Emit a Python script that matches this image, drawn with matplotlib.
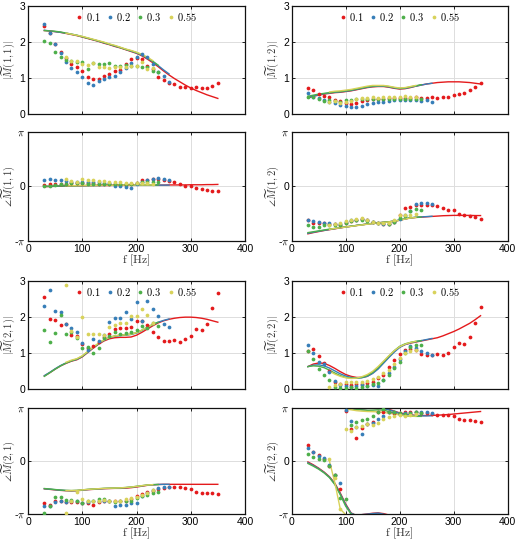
import numpy as np
import matplotlib
matplotlib.use("Agg")
import matplotlib.pyplot as plt
from matplotlib.lines import Line2D

plt.rcParams['mathtext.fontset'] = 'cm'
plt.rcParams['font.family'] = ['Liberation Sans', 'DejaVu Sans']

# ---------------- data ----------------
labels = ['0.1', '0.2', '0.3', '0.55']
colors = ['#e41a1c', '#377eb8', '#4daf4a', '#d8d25a']
f_red = np.arange(30, 351, 10)     # 30..350
f_blue = np.arange(30, 261, 10)    # 30..260
f_green = np.arange(30, 241, 10)   # 30..240
f_yellow = np.arange(70, 231, 10)  # 70..230

# |M(1,1)| measured
m11_mag_red = [2.44, 2.25, 1.95, 1.72, 1.55, 1.39, 1.32, 1.2, 1.02, 0.97, 0.99, 1.06, 1.13, 1.2, 1.23, 1.39, 1.53,
               1.57, 1.53, 1.35, 1.26, 1.03, 0.94, 0.88, 0.83, 0.77, 0.75, 0.74, 0.75, 0.72, 0.72, 0.79, 0.88]
m11_mag_blue = [2.51, 2.25, 1.94, 1.7, 1.46, 1.28, 1.18, 1.03, 0.86, 0.8, 0.93, 0.97, 1.02, 1.07, 1.16, 1.28, 1.42,
                1.58, 1.68, 1.6, 1.39, 1.18, 1.05, 0.9]
m11_mag_green = [2.03, 1.97, 1.74, 1.6, 1.51, 1.48, 1.46, 1.44, 1.26, 1.42, 1.39, 1.4, 1.42, 1.35, 1.35, 1.37, 1.34,
                 1.34, 1.31, 1.32, 1.21, 1.16]
m11_mag_yellow = [1.58, 1.48, 1.49, 1.4, 1.36, 1.42, 1.32, 1.32, 1.28, 1.32, 1.32, 1.32, 1.34, 1.34, 1.46, 1.26, 1.28]
# |M(1,1)| model
m11_magfit_red = [2.32, 2.31, 2.29, 2.27, 2.24, 2.21, 2.18, 2.14, 2.10, 2.06, 2.02, 1.97, 1.93, 1.88, 1.84, 1.79, 1.74,
                  1.69, 1.62, 1.53, 1.43, 1.32, 1.20, 1.09, 0.99, 0.90, 0.81, 0.73, 0.66, 0.60, 0.54, 0.49, 0.44]
m11_magfit_blue = [2.33, 2.31, 2.29, 2.27, 2.25, 2.22, 2.19, 2.15, 2.11, 2.07, 2.03, 1.98, 1.94, 1.89, 1.85, 1.80, 1.75,
                   1.70, 1.64, 1.56, 1.46, 1.35, 1.23, 1.12]
m11_magfit_green = [2.32, 2.31, 2.30, 2.28, 2.25, 2.22, 2.19, 2.15, 2.11, 2.07, 2.03, 1.99, 1.94, 1.90, 1.85, 1.80, 1.76,
                    1.71, 1.65, 1.57, 1.47, 1.36]
m11_magfit_yellow = [2.25, 2.22, 2.19, 2.16, 2.12, 2.08, 2.04, 2.0, 1.95, 1.91, 1.86, 1.81, 1.77, 1.72, 1.66, 1.58, 1.49]

# |M(1,2)|
m12_mag_red = [0.72, 0.68, 0.56, 0.52, 0.47, 0.4, 0.37, 0.31, 0.29, 0.31, 0.37, 0.4, 0.42, 0.43, 0.43, 0.44, 0.44,
               0.46, 0.44, 0.46, 0.47, 0.46, 0.46, 0.49, 0.46, 0.47, 0.49, 0.54, 0.56, 0.6, 0.68, 0.75, 0.88]
m12_mag_blue = [0.58, 0.49, 0.44, 0.4, 0.35, 0.31, 0.26, 0.23, 0.19, 0.19, 0.23, 0.28, 0.31, 0.33, 0.35, 0.38, 0.4,
                0.4, 0.4, 0.4, 0.4, 0.38, 0.4, 0.35]
m12_mag_green = [0.47, 0.47, 0.43, 0.38, 0.4, 0.38, 0.35, 0.4, 0.4, 0.42, 0.43, 0.43, 0.43, 0.43, 0.43, 0.42, 0.42,
                 0.42, 0.42, 0.42, 0.43, 0.43]
m12_mag_yellow = [0.33, 0.37, 0.32, 0.35, 0.38, 0.42, 0.44, 0.46, 0.47, 0.46, 0.47, 0.47, 0.49, 0.49, 0.51, 0.47, 0.49]
m12_magfit_red = [0.45, 0.50, 0.53, 0.56, 0.58, 0.60, 0.61, 0.63, 0.65, 0.68, 0.71, 0.74, 0.76, 0.77, 0.77, 0.75, 0.72,
                  0.70, 0.71, 0.74, 0.78, 0.81, 0.84, 0.86, 0.88, 0.89, 0.90, 0.90, 0.90, 0.89, 0.88, 0.86, 0.84]
m12_magfit_blue = [0.47, 0.51, 0.54, 0.57, 0.59, 0.61, 0.62, 0.64, 0.66, 0.69, 0.72, 0.75, 0.77, 0.78, 0.78, 0.76, 0.73,
                   0.71, 0.72, 0.75, 0.78, 0.81, 0.84, 0.86]
m12_magfit_green = [0.50, 0.53, 0.56, 0.58, 0.60, 0.62, 0.63, 0.65, 0.67, 0.70, 0.73, 0.76, 0.78, 0.79, 0.79, 0.77, 0.74,
                    0.72, 0.73, 0.76, 0.79, 0.82]
m12_magfit_yellow = [0.62, 0.64, 0.65, 0.67, 0.69, 0.72, 0.75, 0.78, 0.80, 0.80, 0.80, 0.78, 0.75, 0.73, 0.74, 0.77, 0.80]

# angle M(1,1)
m11_ph_red = [0.1, 0.12, 0.14, 0.15, 0.16, 0.17, 0.17, 0.18, 0.18, 0.17, 0.16, 0.15, 0.14, 0.12, 0.1, 0.1, 0.12, 0.2,
              0.36, 0.36, 0.42, 0.4, 0.35, 0.3, 0.23, 0.13, 0.02, 0.02, -0.11, -0.15, -0.21, -0.25, -0.27]
m11_ph_blue = [0.36, 0.42, 0.38, 0.36, 0.31, 0.27, 0.23, 0.27, 0.27, 0.23, 0.23, 0.21, 0.17, 0.04, 0.0, -0.02, -0.08,
               0.11, 0.27, 0.36, 0.42, 0.46, 0.42, 0.36]
m11_ph_green = [0.02, 0.02, 0.08, 0.11, 0.13, 0.17, 0.17, 0.17, 0.11, 0.11, 0.11, 0.13, 0.11, 0.11, 0.13, 0.13, 0.15,
                0.17, 0.23, 0.23, 0.27, 0.27]
m11_ph_yellow = [0.4, 0.31, 0.27, 0.42, 0.36, 0.36, 0.33, 0.31, 0.27, 0.23, 0.23, 0.21, 0.19, 0.19, 0.17, 0.17, 0.13]
m11_phfit_red = [-0.02, -0.01, 0.0, 0.01, 0.02, 0.02, 0.03, 0.03, 0.04, 0.04, 0.05, 0.05, 0.05, 0.06, 0.06, 0.06, 0.06,
                 0.07, 0.07, 0.07, 0.07, 0.07, 0.07, 0.08, 0.08, 0.08, 0.08, 0.09, 0.09, 0.09, 0.10, 0.10, 0.11]
m11_phfit_blue = [-0.01, 0.0, 0.01, 0.02, 0.02, 0.03, 0.03, 0.04, 0.04, 0.05, 0.05, 0.05, 0.06, 0.06, 0.06, 0.07, 0.07,
                  0.07, 0.07, 0.07, 0.07, 0.07, 0.07, 0.07]
m11_phfit_green = [0.0, 0.01, 0.02, 0.02, 0.03, 0.03, 0.04, 0.04, 0.05, 0.05, 0.05, 0.06, 0.06, 0.06, 0.07, 0.07, 0.07,
                   0.07, 0.08, 0.08, 0.08, 0.08]
m11_phfit_yellow = [0.03, 0.04, 0.04, 0.05, 0.05, 0.05, 0.06, 0.06, 0.06, 0.07, 0.07, 0.07, 0.07, 0.08, 0.08, 0.08, 0.08]

# angle M(1,2)
m12_ph_red = [-1.95, -2.09, -2.1, -2.12, -2.15, -2.18, -2.2, -2.1, -2.0, -1.95, -1.9, -1.95, -2.05, -2.1, -2.15, -2.17,
              -2.05, -1.67, -1.22, -1.18, -1.1, -1.05, -1.05, -1.05, -1.14, -1.22, -1.34, -1.38, -1.61, -1.63, -1.72,
              -1.76, -1.86]
m12_ph_blue = [-1.92, -2.0, -2.05, -2.09, -2.11, -2.15, -2.19, -2.05, -1.96, -1.92, -1.86, -1.92, -2.05, -2.09, -2.15,
               -2.19, -2.05, -1.9, -1.63, -1.41, -0.99, -0.95, -0.93, -1.03]
m12_ph_green = [-2.25, -2.34, -2.31, -2.25, -2.25, -2.21, -2.21, -2.09, -2.0, -1.92, -1.92, -2.0, -2.05, -2.09, -2.11,
                -2.15, -2.05, -1.8, -1.72, -1.43, -1.32, -1.35]
m12_ph_yellow = [-2.2, -2.15, -2.1, -2.0, -1.92, -1.86, -1.82, -1.92, -2.05, -2.11, -2.11, -2.11, -1.96, -1.67, -1.67,
                 -1.63, -1.6]
m12_phfit_red = [-2.73, -2.66, -2.60, -2.54, -2.49, -2.44, -2.39, -2.34, -2.30, -2.25, -2.21, -2.17, -2.13, -2.10, -2.07,
                 -2.04, -2.00, -1.95, -1.88, -1.82, -1.79, -1.77, -1.75, -1.73, -1.71, -1.69, -1.68, -1.67, -1.67,
                 -1.67, -1.67, -1.68, -1.68]
m12_phfit_blue = [-2.70, -2.64, -2.58, -2.53, -2.48, -2.43, -2.38, -2.34, -2.29, -2.25, -2.21, -2.17, -2.13, -2.10,
                  -2.07, -2.04, -2.00, -1.94, -1.87, -1.81, -1.78, -1.76, -1.74, -1.72]
m12_phfit_green = [-2.66, -2.61, -2.56, -2.51, -2.46, -2.42, -2.37, -2.33, -2.29, -2.25, -2.21, -2.17, -2.13, -2.10,
                   -2.07, -2.04, -2.00, -1.94, -1.87, -1.81, -1.78, -1.76]
m12_phfit_yellow = [-2.47, -2.42, -2.38, -2.34, -2.30, -2.26, -2.22, -2.18, -2.14, -2.11, -2.08, -2.05, -2.01, -1.95,
                    -1.88, -1.82, -1.79]

# |M(2,1)|
m21_mag_red = [2.57, 1.95, 1.93, 1.77, 1.8, 1.5, 1.48, 1.25, 1.15, 1.2, 1.3, 1.45, 1.54, 1.67, 1.71, 1.71, 1.74, 1.88,
               1.9, 1.79, 1.58, 1.46, 1.34, 1.34, 1.37, 1.32, 1.39, 1.49, 1.68, 1.65, 1.81, 2.24, 2.67]
m21_mag_blue = [2.3, 2.76, 2.18, 2.14, 1.81, 1.69, 1.58, 1.28, 1.1, 1.39, 1.34, 1.5, 1.86, 1.99, 1.97, 2.13, 1.95, 2.41,
                1.9, 2.46, 2.22, 2.04, 1.81, 1.72]
m21_mag_green = [1.65, 1.32, 1.56, 2.05, 1.54, 1.6, 1.42, 1.14, 1.16, 1.0, 1.14, 1.42, 1.49, 1.6, 1.54, 1.56, 1.6, 1.65,
                 1.76, 1.71, 1.83, 1.76]
m21_mag_yellow = [2.9, 1.62, 1.45, 2.0, 1.54, 1.53, 1.54, 1.51, 1.74, 1.79, 1.83, 1.83, 2.02, 2.04, 2.23, 2.05, 1.83]
m21_magfit_red = [0.37, 0.46, 0.56, 0.65, 0.72, 0.78, 0.82, 0.90, 1.02, 1.14, 1.25, 1.34, 1.40, 1.43, 1.44, 1.44, 1.45,
                  1.50, 1.58, 1.67, 1.76, 1.84, 1.90, 1.94, 1.97, 1.99, 2.00, 2.00, 1.99, 1.97, 1.94, 1.90, 1.86]
m21_magfit_blue = [0.38, 0.47, 0.57, 0.66, 0.73, 0.79, 0.83, 0.91, 1.03, 1.15, 1.26, 1.36, 1.43, 1.47, 1.49, 1.50, 1.52,
                   1.56, 1.63, 1.71, 1.79, 1.86, 1.91, 1.95]
m21_magfit_green = [0.36, 0.46, 0.56, 0.65, 0.73, 0.79, 0.84, 0.92, 1.04, 1.16, 1.27, 1.37, 1.44, 1.48, 1.50, 1.51,
                    1.53, 1.57, 1.64, 1.72, 1.80, 1.86]
m21_magfit_yellow = [0.75, 0.81, 0.85, 0.93, 1.05, 1.17, 1.28, 1.37, 1.44, 1.48, 1.50, 1.51, 1.53, 1.57, 1.64, 1.72,
                     1.80]

# |M(2,2)|
m22_mag_red = [1.05, 1.11, 0.93, 0.74, 0.5, 0.21, 0.15, 0.14, 0.12, 0.15, 0.15, 0.17, 0.21, 0.31, 0.4, 0.63, 0.81, 0.97,
               1.09, 1.12, 1.09, 0.98, 0.94, 0.95, 0.97, 0.94, 1.02, 1.16, 1.28, 1.26, 1.44, 1.85, 2.29]
m22_mag_blue = [1.23, 1.02, 0.77, 0.7, 0.49, 0.23, 0.12, 0.09, 0.07, 0.1, 0.12, 0.1, 0.12, 0.1, 0.26, 0.46, 0.63, 0.83,
                1.05, 1.19, 1.15, 1.05, 1.0, 0.95]
m22_mag_green = [1.05, 0.83, 0.56, 0.4, 0.26, 0.07, 0.05, 0.03, 0.06, 0.05, 0.07, 0.1, 0.14, 0.17, 0.26, 0.4, 0.58,
                 0.77, 1.0, 1.16, 1.23, 1.23]
m22_mag_yellow = [0.06, 0.12, 0.14, 0.21, 0.21, 0.19, 0.21, 0.23, 0.29, 0.33, 0.46, 0.54, 0.7, 0.86, 1.02, 1.05, 1.1]
m22_magfit_red = [0.63, 0.70, 0.73, 0.72, 0.66, 0.58, 0.49, 0.41, 0.36, 0.33, 0.33, 0.36, 0.45, 0.58, 0.74, 0.90, 1.05,
                  1.17, 1.24, 1.28, 1.31, 1.34, 1.37, 1.40, 1.43, 1.48, 1.54, 1.60, 1.67, 1.75, 1.83, 1.93, 2.04]
m22_magfit_blue = [0.63, 0.67, 0.68, 0.65, 0.59, 0.51, 0.43, 0.37, 0.33, 0.31, 0.32, 0.36, 0.44, 0.56, 0.72, 0.88, 1.03,
                   1.16, 1.24, 1.29, 1.32, 1.35, 1.38, 1.41]
m22_magfit_green = [0.63, 0.65, 0.64, 0.60, 0.53, 0.45, 0.38, 0.33, 0.31, 0.31, 0.33, 0.38, 0.47, 0.60, 0.76, 0.92,
                    1.07, 1.19, 1.26, 1.30, 1.33, 1.35]
m22_magfit_yellow = [0.50, 0.42, 0.36, 0.32, 0.30, 0.31, 0.35, 0.41, 0.50, 0.63, 0.78, 0.93, 1.07, 1.18, 1.25, 1.30,
                     1.33]

# angle M(2,1)
m21_ph_red = [-2.5, -2.59, -2.4, -2.4, -2.42, -2.42, -2.45, -2.5, -2.5, -2.63, -2.45, -2.4, -2.38, -2.4, -2.4, -2.35,
              -2.25, -2.1, -1.96, -1.85, -1.77, -1.65, -1.58, -1.55, -1.55, -1.55, -1.61, -1.67, -1.81, -1.91, -1.91,
              -1.91, -1.96]
m21_ph_blue = [-2.69, -2.65, -2.46, -2.36, -2.44, -2.4, -2.4, -2.5, -2.44, -2.4, -2.36, -2.4, -2.4, -2.65, -2.63, -2.59,
               -2.5, -2.5, -2.1, -1.91, -1.71, -1.61, -1.55, -1.51]
m21_ph_green = [-3.08, -2.69, -2.16, -2.14, -2.3, -2.34, -2.36, -2.5, -2.36, -2.36, -2.26, -2.26, -2.36, -2.44, -2.4,
                -2.4, -2.36, -2.2, -2.1, -2.0, -1.91, -1.85]
m21_ph_yellow = [-3.1, -2.4, -1.85, -2.24, -2.36, -2.36, -2.36, -2.3, -2.36, -2.4, -2.36, -2.24, -2.2, -2.16, -2.0,
                 -1.91, -1.71]
m21_phfit_red = [-1.65, -1.68, -1.71, -1.74, -1.76, -1.77, -1.76, -1.73, -1.70, -1.68, -1.66, -1.64, -1.63, -1.62,
                 -1.62, -1.61, -1.58, -1.54, -1.49, -1.44, -1.41, -1.39, -1.38, -1.38, -1.38, -1.38, -1.38, -1.38,
                 -1.38, -1.38, -1.38, -1.38, -1.38]
m21_phfit_blue = [-1.64, -1.67, -1.70, -1.73, -1.75, -1.76, -1.75, -1.72, -1.69, -1.67, -1.65, -1.63, -1.62, -1.61,
                  -1.60, -1.58, -1.55, -1.51, -1.47, -1.43, -1.40, -1.39, -1.38, -1.38]
m21_phfit_green = [-1.63, -1.66, -1.69, -1.72, -1.74, -1.75, -1.74, -1.71, -1.68, -1.66, -1.64, -1.62, -1.61, -1.60,
                   -1.59, -1.57, -1.54, -1.50, -1.46, -1.42, -1.40, -1.39]
m21_phfit_yellow = [-1.75, -1.75, -1.74, -1.71, -1.68, -1.66, -1.64, -1.62, -1.61, -1.60, -1.59, -1.57, -1.54, -1.50,
                    -1.46, -1.42, -1.40]

# angle M(2,2)
m22_ph_red = [0.94, 0.55, 0.35, 0.1, -0.29, -0.82, -1.65, 2.98, 1.92, 1.37, 1.95, 2.2, 2.31, 2.9, 2.94, 2.9, 2.86,
              2.86, 2.9, 2.94, 2.9, 2.88, 2.85, 2.8, 2.76, 2.76, 2.76, 2.67, 2.51, 2.47, 2.45, 2.41, 2.35]
m22_ph_blue = [0.78, 0.55, 0.29, 0.16, -0.24, -0.82, -1.31, 3.05, 2.37, 2.0, 1.63, 2.18, 2.25, 2.51, 2.7, 2.9, 2.9,
               2.8, 2.86, 2.86, 2.9, 2.9, 2.9, 2.86]
m22_ph_green = [0.41, 0.22, 0.12, 0.06, -0.29, -0.85, -2.2, -2.25, 2.12, 2.3, 2.47, 2.51, 2.7, 2.9, 3.1, 2.94, 2.9,
                2.86, 2.8, 2.85, 2.9, 2.88]
m22_ph_yellow = [0.1, -1.0, -2.85, 1.92, 1.82, 2.0, 2.1, 2.22, 2.16, 2.27, 2.51, 2.6, 2.7, 2.74, 2.7, 2.76, 2.8]
m22_phfit_red = [-0.05, -0.22, -0.42, -0.65, -0.93, -1.32, -1.9, -2.55, -3.08, 3.04, 3.1, 3.14, -3.1, -3.08, -3.12,
                 3.08, 2.97, 2.87, 2.8, 2.75, 2.72, 2.71, 2.71, 2.72, 2.73, 2.75, 2.77, 2.8, 2.83, 2.86, 2.89, 2.92,
                 2.95]
m22_phfit_blue = [-0.1, -0.26, -0.45, -0.68, -0.96, -1.36, -1.95, -2.6, -3.1, 3.05, 3.1, 3.13, -3.12, -3.09, 3.13,
                  3.05, 2.95, 2.85, 2.78, 2.73, 2.7, 2.69, 2.69, 2.7]
m22_phfit_green = [-0.14, -0.3, -0.48, -0.7, -0.98, -1.4, -2.0, -2.68, 3.13, 3.08, 3.04, 3.02, 3.03, 3.05, 3.03, 2.95,
                   2.85, 2.76, 2.7, 2.67, 2.66, 2.66]
m22_phfit_yellow = [0.0, -1.3, -2.85, 3.1, 3.05, 3.0, 2.97, 2.95, 2.94, 2.93, 2.9, 2.85, 2.8, 2.74, 2.7, 2.68, 2.67]

# ---------------- figure ----------------
freqs = [f_red, f_blue, f_green, f_yellow]
panels = [
    ([0.054, 0.7895, 0.417, 0.1994], 'mag', r'$|\widetilde{M}(1,1)|$',
     [m11_mag_red, m11_mag_blue, m11_mag_green, m11_mag_yellow],
     [m11_magfit_red, m11_magfit_blue, m11_magfit_green, m11_magfit_yellow]),
    ([0.561, 0.7895, 0.415, 0.1994], 'mag', r'$|\widetilde{M}(1,2)|$',
     [m12_mag_red, m12_mag_blue, m12_mag_green, m12_mag_yellow],
     [m12_magfit_red, m12_magfit_blue, m12_magfit_green, m12_magfit_yellow]),
    ([0.054, 0.5562, 0.417, 0.2013], 'ph', r'$\angle\widetilde{M}(1,1)$',
     [m11_ph_red, m11_ph_blue, m11_ph_green, m11_ph_yellow],
     [m11_phfit_red, m11_phfit_blue, m11_phfit_green, m11_phfit_yellow]),
    ([0.561, 0.5562, 0.415, 0.2013], 'ph', r'$\angle\widetilde{M}(1,2)$',
     [m12_ph_red, m12_ph_blue, m12_ph_green, m12_ph_yellow],
     [m12_phfit_red, m12_phfit_blue, m12_phfit_green, m12_phfit_yellow]),
    ([0.054, 0.283, 0.417, 0.1994], 'mag', r'$|\widetilde{M}(2,1)|$',
     [m21_mag_red, m21_mag_blue, m21_mag_green, m21_mag_yellow],
     [m21_magfit_red, m21_magfit_blue, m21_magfit_green, m21_magfit_yellow]),
    ([0.561, 0.283, 0.415, 0.1994], 'mag', r'$|\widetilde{M}(2,2)|$',
     [m22_mag_red, m22_mag_blue, m22_mag_green, m22_mag_yellow],
     [m22_magfit_red, m22_magfit_blue, m22_magfit_green, m22_magfit_yellow]),
    ([0.054, 0.0535, 0.417, 0.1946], 'ph', r'$\angle\widetilde{M}(2,1)$',
     [m21_ph_red, m21_ph_blue, m21_ph_green, m21_ph_yellow],
     [m21_phfit_red, m21_phfit_blue, m21_phfit_green, m21_phfit_yellow]),
    ([0.561, 0.0535, 0.415, 0.1946], 'ph', r'$\angle\widetilde{M}(2,2)$',
     [m22_ph_red, m22_ph_blue, m22_ph_green, m22_ph_yellow],
     [m22_phfit_red, m22_phfit_blue, m22_phfit_green, m22_phfit_yellow]),
]

fig = plt.figure(figsize=(5.2, 5.43), dpi=100)

for rect, kind, ylab, dots, fits in panels:
    ax = fig.add_axes(rect)
    for fx, yv, c in zip(freqs, fits, colors):
        if kind == 'ph':
            u = np.unwrap(np.asarray(yv, dtype=float))
            for k in (-1, 0, 1):
                ax.plot(fx, u + 2 * np.pi * k, color=c, lw=1.0, zorder=2)
        else:
            ax.plot(fx, yv, color=c, lw=1.0, zorder=2)
    for fx, yv, c in zip(freqs, dots, colors):
        ax.plot(fx, yv, 'o', color=c, ms=2.7, mew=0, zorder=3)
    ax.set_xlim(0, 400)
    ax.set_xticks([0, 100, 200, 300, 400])
    if kind == 'mag':
        ax.set_ylim(0, 3)
        ax.set_yticks([0, 1, 2, 3])
        ax.set_xticklabels([])
        handles = [Line2D([], [], ls='none', marker='o', ms=2.7, mew=0, color=c) for c in colors]
        ax.legend(handles, ['$' + l + '$' for l in labels], loc='upper center', ncol=4, frameon=False,
                  fontsize=7.5, handlelength=0.6, handletextpad=0.3, columnspacing=0.6,
                  borderaxespad=0.25, borderpad=0.2)
    else:
        ax.set_ylim(-np.pi, np.pi)
        ax.set_yticks([-np.pi, 0, np.pi])
        ax.set_yticklabels([r'-$\pi$', '0', r'$\pi$'])
        tl = ax.get_yticklabels()
        tl[0].set_fontsize(5)
        tl[2].set_fontsize(5)
        ax.set_xlabel(r'$\mathrm{f\ [Hz]}$', fontsize=8.5, color='#333333', labelpad=-1)
    ax.set_ylabel(ylab, fontsize=7.5, color='#333333')
    ax.yaxis.set_label_coords(-11.0 / (rect[2] * 520), 0.5)
    ax.grid(True, color='#dddddd', lw=0.7)
    ax.set_axisbelow(True)
    ax.tick_params(direction='in', length=2.5, width=0.6, labelsize=7.5, pad=2,
                   top=True, right=True)
    for s in ax.spines.values():
        s.set_linewidth(0.9)
        s.set_color('#111111')

fig.savefig('out.png', dpi=100)
